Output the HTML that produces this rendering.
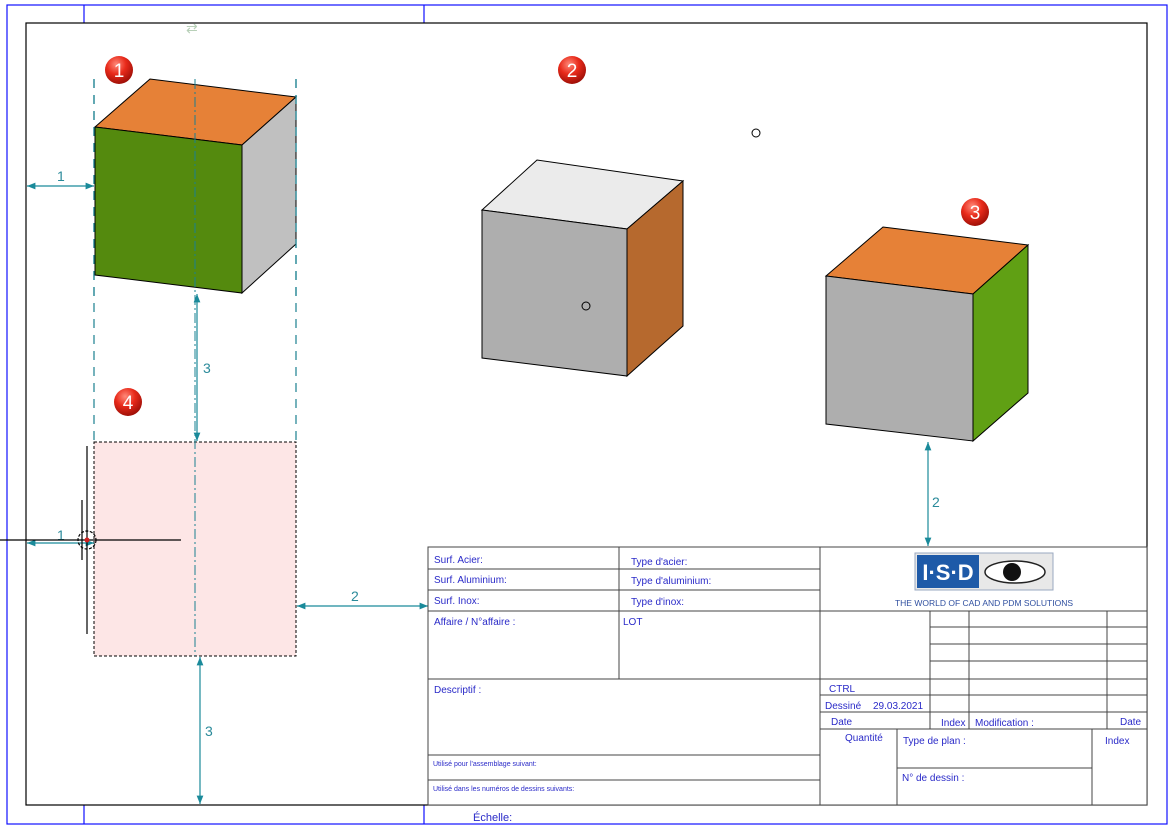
<!DOCTYPE html>
<html><head><meta charset="utf-8"><style>
html,body{margin:0;padding:0;background:#fff;width:1171px;height:831px;overflow:hidden}
svg{display:block}
.t{font-family:"Liberation Sans Narrow","Liberation Sans",sans-serif;fill:#2a2ac8;font-size:10px}
.d{font-family:"Liberation Sans",sans-serif;fill:#2a8a9a;font-size:14px}
.b{font-family:"Liberation Sans",sans-serif;fill:#fff;font-size:19px;text-anchor:middle}
</style></head><body>
<svg width="1171" height="831" viewBox="0 0 1171 831" xmlns="http://www.w3.org/2000/svg">
<defs>
<radialGradient id="rg" cx="0.4" cy="0.3" r="0.7"><stop offset="0" stop-color="#ff8a7a"/><stop offset="0.5" stop-color="#e82a1a"/><stop offset="1" stop-color="#a01008"/></radialGradient>
<marker id="ar" viewBox="0 0 10 10" refX="10" refY="5" markerWidth="7" markerHeight="7" orient="auto-start-reverse"><path d="M0,1 L10,5 L0,9 z" fill="#1a8a9a"/></marker>
</defs>
<rect x="7" y="5" width="1160" height="819" fill="none" stroke="#1010ff" stroke-width="1.2"/>
<path d="M84 5V23M424 5V23M84 805V824M424 805V824" stroke="#1010ff" stroke-width="1.2"/>
<rect x="26" y="23" width="1121" height="782" fill="none" stroke="#000" stroke-width="1.2"/>
<text x="186" y="33" font-size="14" fill="#b8d0b8" font-family="Liberation Sans">⇄</text>

<rect x="94" y="442" width="202" height="214" fill="#fde6e6" stroke="#000" stroke-dasharray="3,2"/>
<path d="M94 79V442M296 79V442" stroke="#1a8090" stroke-width="1.2" stroke-dasharray="9,7"/>
<path d="M195 79V656" stroke="#1a8090" stroke-dasharray="10,3,2,3"/>

<polygon points="95,127 150,79 296,97 242,145" fill="#e68137" stroke="#000"/>
<polygon points="242,145 296,97 296,244 242,293" fill="#c0c0c0" stroke="#000"/>
<polygon points="95,127 242,145 242,293 95,275" fill="#548a0e" stroke="#000"/>
<path d="M195 79V300" stroke="#1a8090" stroke-dasharray="10,3,2,3"/>
<path d="M94 79V300M296 79V300" stroke="#1a8090" stroke-width="1.2" stroke-dasharray="9,7"/>

<polygon points="482,210 537,160 683,181 627,229" fill="#ebebeb" stroke="#000"/>
<polygon points="627,229 683,181 683,326 627,376" fill="#b6692e" stroke="#000"/>
<polygon points="482,210 627,229 627,376 482,358" fill="#aeaeae" stroke="#000"/>
<circle cx="586" cy="306" r="4" fill="none" stroke="#000"/>
<circle cx="756" cy="133" r="4" fill="none" stroke="#000"/>

<polygon points="826,276 883,227 1028,245 973,294" fill="#e68137" stroke="#000"/>
<polygon points="973,294 1028,245 1028,393 973,441" fill="#60a014" stroke="#000"/>
<polygon points="826,276 973,294 973,441 826,424" fill="#aeaeae" stroke="#000"/>

<g stroke="#1a8a9a" stroke-width="1.2">
<line x1="27" y1="186" x2="94" y2="186" marker-start="url(#ar)" marker-end="url(#ar)"/>
<line x1="197" y1="294" x2="197" y2="441" marker-start="url(#ar)" marker-end="url(#ar)"/>
<line x1="928" y1="442" x2="928" y2="546" marker-start="url(#ar)" marker-end="url(#ar)"/>
<line x1="27" y1="543" x2="94" y2="543" marker-start="url(#ar)" marker-end="url(#ar)"/>
<line x1="297" y1="606" x2="428" y2="606" marker-start="url(#ar)" marker-end="url(#ar)"/>
<line x1="200" y1="657" x2="200" y2="804" marker-start="url(#ar)" marker-end="url(#ar)"/>
</g>
<text class="d" x="57" y="181">1</text>
<text class="d" x="203" y="373">3</text>
<text class="d" x="932" y="507">2</text>
<text class="d" x="57" y="540">1</text>
<text class="d" x="351" y="601">2</text>
<text class="d" x="205" y="736">3</text>

<g stroke="#000" stroke-width="1.2">
<line x1="87" y1="446" x2="87" y2="634"/>
<line x1="82" y1="500" x2="82" y2="560"/>
<line x1="0" y1="540" x2="181" y2="540"/>
<circle cx="87" cy="540" r="9" fill="none" stroke-dasharray="3,1.5"/>
</g>
<circle cx="87" cy="540" r="2.5" fill="#d02020"/>

<g>
<circle cx="119" cy="70" r="14" fill="url(#rg)"/><text class="b" x="119" y="77">1</text>
<circle cx="572" cy="70" r="14" fill="url(#rg)"/><text class="b" x="572" y="77">2</text>
<circle cx="975" cy="212" r="14" fill="url(#rg)"/><text class="b" x="975" y="219">3</text>
<circle cx="128" cy="402" r="14" fill="url(#rg)"/><text class="b" x="128" y="409">4</text>
</g>

<rect x="428" y="547" width="719" height="258" fill="#fff" stroke="#444" stroke-width="1"/>
<g stroke="#444" stroke-width="1" fill="none">
<path d="M428 569H820M428 590H820M428 611H1147M428 679H1147M428 755H820M428 780H820"/>
<path d="M619 547V679M820 547V805"/>
<path d="M930 611V729M969 611V729M1107 611V729M1147 611V729"/>
<path d="M930 627H1147M930 644H1147M930 661H1147M820 695H1147M820 712H1147M820 729H1147"/>
<path d="M897 729V805M1092 729V805M897 768H1092"/>
</g>
<text class="t" x="434" y="563">Surf. Acier:</text>
<text class="t" x="434" y="583">Surf. Aluminium:</text>
<text class="t" x="434" y="604">Surf. Inox:</text>
<text class="t" x="631" y="565">Type d'acier:</text>
<text class="t" x="631" y="584">Type d'aluminium:</text>
<text class="t" x="631" y="605">Type d'inox:</text>
<text class="t" x="434" y="625">Affaire / N°affaire :</text>
<text class="t" x="623" y="625">LOT</text>
<text class="t" x="434" y="693">Descriptif :</text>
<text class="t" x="433" y="766" style="font-size:7px">Utilisé pour l'assemblage suivant:</text>
<text class="t" x="433" y="791" style="font-size:7px">Utilisé dans les numéros de dessins suivants:</text>
<text class="t" x="829" y="692">CTRL</text>
<text class="t" x="825" y="709">Dessiné</text>
<text class="t" x="873" y="709">29.03.2021</text>
<text class="t" x="831" y="725">Date</text>
<text class="t" x="941" y="726">Index</text>
<text class="t" x="975" y="726">Modification :</text>
<text class="t" x="1120" y="725">Date</text>
<text class="t" x="845" y="741">Quantité</text>
<text class="t" x="903" y="744">Type de plan :</text>
<text class="t" x="1105" y="744">Index</text>
<text class="t" x="902" y="781">N° de dessin :</text>
<text class="t" x="473" y="821" style="font-size:11px">Échelle:</text>

<rect x="915" y="553" width="138" height="37" fill="#e8e8e8" stroke="#9aa8c0"/>
<rect x="917" y="555" width="62" height="33" fill="#1e5aa8"/>
<text x="948" y="580" font-family="Liberation Sans" font-weight="bold" font-size="22" fill="#fff" text-anchor="middle">I·S·D</text>
<ellipse cx="1015" cy="572" rx="30" ry="11" fill="#fff" stroke="#222" stroke-width="1.5"/>
<circle cx="1012" cy="572" r="9" fill="#111"/>
<text x="984" y="606" font-family="Liberation Sans" font-size="8.5" fill="#3050a0" text-anchor="middle">THE WORLD OF CAD AND PDM SOLUTIONS</text>
</svg>
</body></html>
